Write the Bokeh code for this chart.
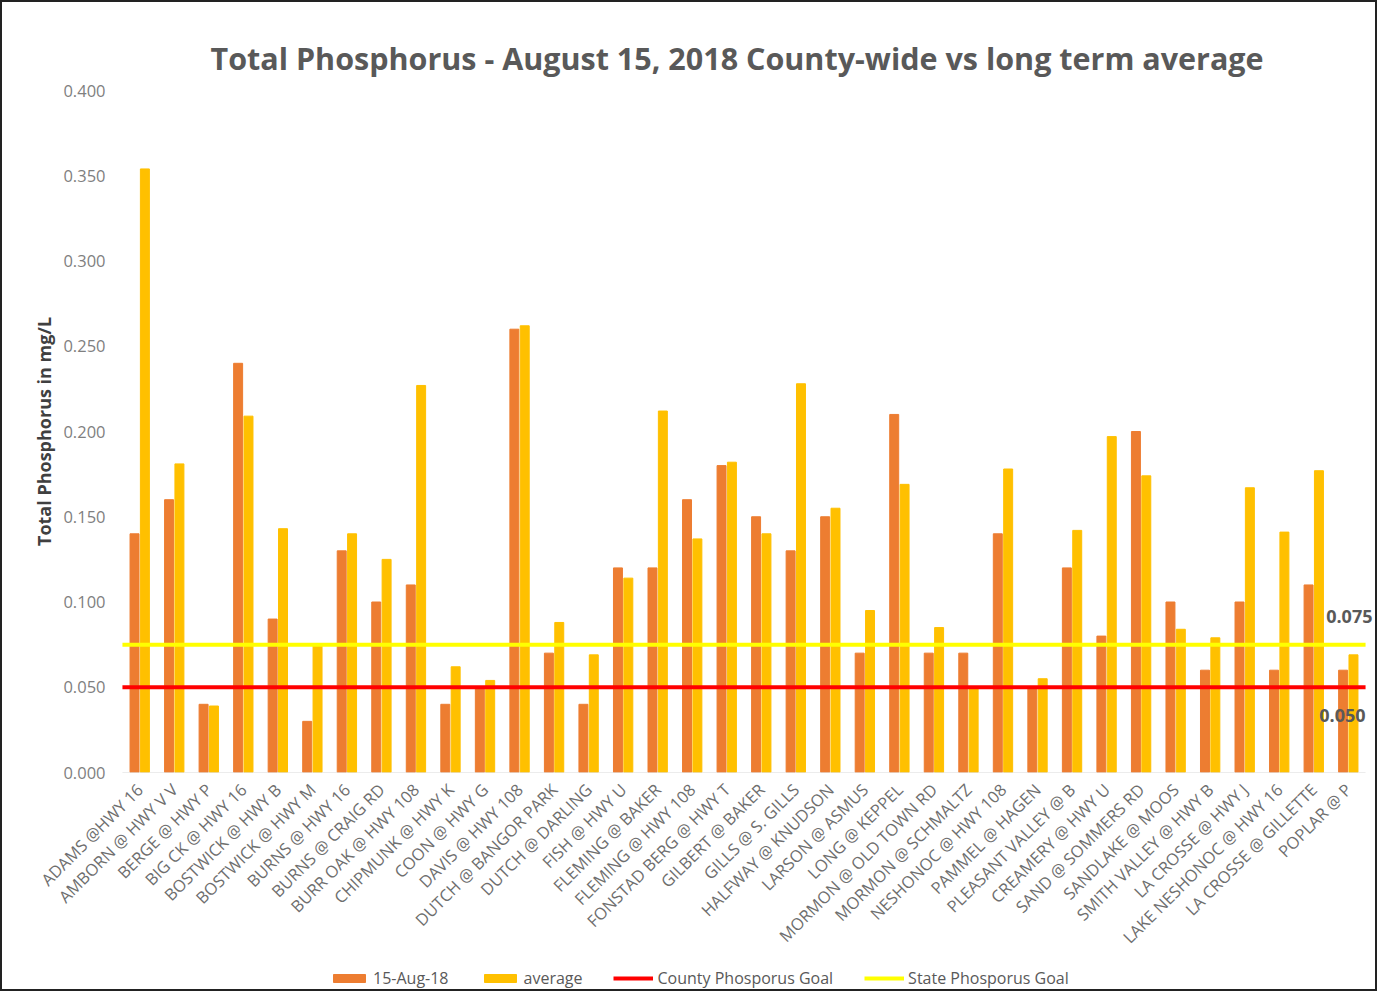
from bokeh.plotting import figure
from bokeh.layouts import column
from bokeh.models import (FactorRange, ColumnDataSource, Legend, LegendItem,
                          FixedTicker, Label, NumeralTickFormatter)
from bokeh.transform import dodge
from bokeh.embed import file_html
from bokeh.resources import INLINE
from math import pi

sites = [
    "ADAMS @HWY 16", "AMBORN @ HWY V V", "BERGE @ HWY P", "BIG CK @ HWY 16",
    "BOSTWICK @ HWY B", "BOSTWICK @ HWY M", "BURNS @ HWY 16", "BURNS @ CRAIG RD",
    "BURR OAK @ HWY 108", "CHIPMUNK @ HWY K", "COON @ HWY G", "DAVIS @ HWY 108",
    "DUTCH @ BANGOR PARK", "DUTCH @ DARLING", "FISH @ HWY U", "FLEMING @ BAKER",
    "FLEMING @ HWY 108", "FONSTAD BERG @ HWY T", "GILBERT @ BAKER", "GILLS @ S. GILLS",
    "HALFWAY @ KNUDSON", "LARSON @ ASMUS", "LONG @ KEPPEL", "MORMON @ OLD TOWN RD",
    "MORMON @ SCHMALTZ", "NESHONOC @ HWY 108", "PAMMEL @ HAGEN", "PLEASANT VALLEY @ B",
    "CREAMERY @ HWY U", "SAND @ SOMMERS RD", "SANDLAKE @ MOOS", "SMITH VALLEY @ HWY B",
    "LA CROSSE @ HWY J", "LAKE NESHONOC @ HWY 16", "LA CROSSE @ GILLETTE", "POPLAR @ P",
]
aug15 = [0.14, 0.16, 0.04, 0.24, 0.09, 0.03, 0.13, 0.10, 0.11, 0.04, 0.05, 0.26,
         0.07, 0.04, 0.12, 0.12, 0.16, 0.18, 0.15, 0.13, 0.15, 0.07, 0.21, 0.07,
         0.07, 0.14, 0.05, 0.12, 0.08, 0.20, 0.10, 0.06, 0.10, 0.06, 0.11, 0.06]
average = [0.354, 0.181, 0.039, 0.209, 0.143, 0.075, 0.140, 0.125, 0.227, 0.062, 0.054, 0.262,
           0.088, 0.069, 0.114, 0.212, 0.137, 0.182, 0.140, 0.228, 0.155, 0.095, 0.169, 0.085,
           0.049, 0.178, 0.055, 0.142, 0.197, 0.174, 0.084, 0.079, 0.167, 0.141, 0.177, 0.069]
county_goal = 0.050
state_goal = 0.075
y_ticks = [0.0, 0.05, 0.10, 0.15, 0.20, 0.25, 0.30, 0.35, 0.40]
legend_labels = ["15-Aug-18", "average", "County Phosporus Goal", "State Phosporus Goal"]

FONT = "Open Sans"
DARK = "#595959"
MID = "#6E6E6E"
LIGHT = "#7F7F7F"
ORANGE = "#ED7D31"
GOLD = "#FFC000"
RED = "#FF0000"
YELLOW = "#FFFF00"

n = len(sites)
src = ColumnDataSource(dict(site=sites, aug=aug15, avg=average))
goals = ColumnDataSource(dict(x0=[0, 0], x1=[n, n], y=[county_goal, state_goal],
                              color=[RED, YELLOW]))
base = ColumnDataSource(dict(x0=[0], x1=[n], y=[0.0]))

p = figure(x_range=FactorRange(*sites, range_padding=0.23, range_padding_units="absolute"),
           y_range=(0, 0.4),
           width=1373, height=957, output_backend="svg", toolbar_location=None,
           min_border_left=112, min_border_right=2, min_border_top=88,
           min_border_bottom=186,
           title="Total Phosphorus - August 15, 2018 County-wide vs long term average")

p.title.align = "left"
p.title.offset = 96
p.title.text_font = FONT
p.title.text_font_size = "30.5px"
p.title.text_font_style = "bold"
p.title.text_color = DARK
p.title.standoff = 24

p.outline_line_color = None
p.xgrid.grid_line_color = None
p.ygrid.grid_line_color = None

p.vbar(x=dodge("site", -0.15, range=p.x_range), top="aug", width=0.26,
       source=src, color=ORANGE)
p.vbar(x=dodge("site", 0.15, range=p.x_range), top="avg", width=0.26,
       source=src, color=GOLD)
p.segment(x0="x0", y0="y", x1="x1", y1="y", source=base, line_color="#D9D9D9", line_width=1)
p.segment(x0="x0", y0="y", x1="x1", y1="y", source=goals, line_color="color", line_width=4)

# y axis
p.yaxis.ticker = FixedTicker(ticks=y_ticks)
p.yaxis.formatter = NumeralTickFormatter(format="0.000")
p.yaxis.axis_line_color = None
p.yaxis.major_tick_line_color = None
p.yaxis.minor_tick_line_color = None
p.yaxis.major_label_text_font = FONT
p.yaxis.major_label_text_font_size = "16.5px"
p.yaxis.major_label_text_color = LIGHT
p.yaxis.major_label_standoff = 3
p.yaxis.axis_label = "Total Phosphorus in mg/L"
p.yaxis.axis_label_text_font = FONT
p.yaxis.axis_label_text_font_size = "18px"
p.yaxis.axis_label_text_font_style = "bold"
p.yaxis.axis_label_text_color = "#404040"
p.yaxis.axis_label_standoff = 4

# x axis
p.xaxis.axis_line_color = None
p.xaxis.major_tick_line_color = None
p.xaxis.minor_tick_line_color = None
p.xaxis.major_label_orientation = pi / 4
p.xaxis.major_label_text_font = FONT
p.xaxis.major_label_text_font_size = "16.5px"
p.xaxis.major_label_text_color = MID
p.xaxis.major_label_standoff = 8

# goal labels
p.add_layout(Label(x=n + 0.2, y=state_goal, y_offset=28, text=f"{state_goal:.3f}",
                   text_align="right", text_baseline="middle", text_font=FONT,
                   text_font_size="18px", text_font_style="bold", text_color=DARK))
p.add_layout(Label(x=n, y=county_goal, y_offset=-28, text=f"{county_goal:.3f}",
                   text_align="right", text_baseline="middle", text_font=FONT,
                   text_font_size="18px", text_font_style="bold", text_color=DARK))

# legend strip (proxy renderers with the same styles as the chart marks)
nan = float("nan")
lg = figure(width=1373, height=30, output_backend="svg", toolbar_location=None,
            x_axis_location=None, y_axis_location=None, min_border=0,
            x_range=(0, 1), y_range=(0, 1))
lg.outline_line_color = None
lg.xgrid.grid_line_color = None
lg.ygrid.grid_line_color = None
proxy = ColumnDataSource(dict(x=[nan], y=[nan]))
g1 = lg.vbar(x="x", top="y", width=0.1, source=proxy, color=ORANGE)
g2 = lg.vbar(x="x", top="y", width=0.1, source=proxy, color=GOLD)
g3 = lg.line(x="x", y="y", source=proxy, line_color=RED, line_width=4)
g4 = lg.line(x="x", y="y", source=proxy, line_color=YELLOW, line_width=4)

legend = Legend(items=[LegendItem(label=lab, renderers=[g])
                       for lab, g in zip(legend_labels, [g1, g2, g3, g4])],
                orientation="horizontal", location=(215, 0), border_line_color=None,
                background_fill_alpha=0, padding=0, margin=0, spacing=31,
                glyph_width=40, glyph_height=10, label_standoff=4,
                label_text_font=FONT, label_text_font_size="16px",
                label_text_color=DARK)
lg.add_layout(legend)

layout = column(p, lg, spacing=0)
layout.styles = {"border": "2px solid #222"}

open("out.html", "w").write(file_html(layout, INLINE))
